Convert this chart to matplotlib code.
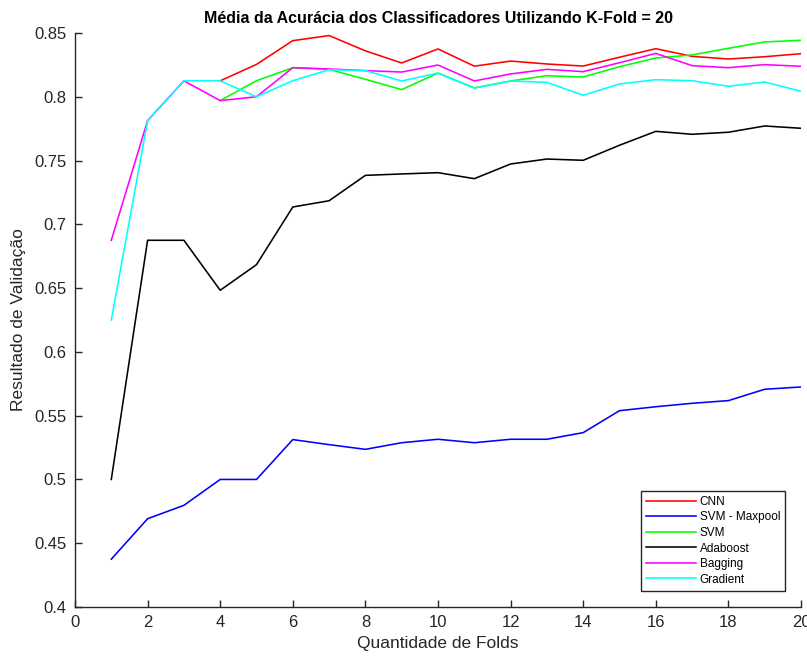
import numpy as np
import matplotlib
matplotlib.use("Agg")
import matplotlib.pyplot as plt

plt.rcParams['font.family'] = ['Liberation Sans', 'DejaVu Sans']

# quantidade de folds
folds = list(range(1, 21))

# acuracia media por classificador (nan = sem resultado)
nan = np.nan
cnn = [nan, nan, nan, 0.8125, 0.8254, 0.844, 0.848, 0.836, 0.8265, 0.8375,
       0.824, 0.828, 0.8257, 0.8241, 0.831, 0.8377, 0.8317, 0.8296, 0.8314, 0.8338]
svm_maxpool = [0.4375, 0.4692, 0.4797, 0.5, 0.5, 0.53125, 0.5273, 0.5236, 0.5288, 0.5315,
               0.5288, 0.5315, 0.5315, 0.5367, 0.5539, 0.557, 0.5597, 0.5618, 0.5707, 0.5725]
svm = [nan, nan, nan, 0.797, 0.8126, 0.8228, 0.8215, 0.8137, 0.8056, 0.8186,
       0.8069, 0.8124, 0.8165, 0.8155, 0.8236, 0.8304, 0.8328, 0.838, 0.843, 0.8443]
adaboost = [0.5, 0.6875, 0.6875, 0.6483, 0.6684, 0.7136, 0.7185, 0.7384, 0.7395, 0.7405,
            0.7358, 0.7473, 0.7512, 0.7502, 0.762, 0.7729, 0.7706, 0.7722, 0.7771, 0.7753]
bagging = [0.6875, 0.7813, 0.8125, 0.797, 0.8, 0.8228, 0.8218, 0.8205, 0.8194, 0.8249,
           0.8124, 0.8179, 0.8215, 0.8197, 0.8267, 0.834, 0.8244, 0.8228, 0.8252, 0.8239]
gradient = [0.625, 0.7813, 0.8125, 0.8125, 0.8, 0.8126, 0.8212, 0.8205, 0.8124, 0.8186,
            0.8069, 0.8124, 0.8113, 0.8012, 0.81, 0.8134, 0.8126, 0.8082, 0.8116, 0.8043]

series = [
    ('CNN', cnn, '#ff0000'),
    ('SVM - Maxpool', svm_maxpool, '#0000ff'),
    ('SVM', svm, '#00ff00'),
    ('Adaboost', adaboost, '#000000'),
    ('Bagging', bagging, '#ff00ff'),
    ('Gradient', gradient, '#00ffff'),
]

fig = plt.figure(figsize=(8.07, 6.58), dpi=100)
ax = fig.add_axes([75 / 807, 51 / 658, 726 / 807, 574 / 658])

for name, vals, col in series:
    ax.plot(folds, vals, color=col, lw=1.15, label=name)

axcol = '#262626'
ax.set_xlim(0, 20)
ax.set_ylim(0.4, 0.85)
ax.set_xticks(range(0, 21, 2))
ax.set_yticks(np.arange(0.4, 0.851, 0.05))
ax.set_yticklabels(['0.4', '0.45', '0.5', '0.55', '0.6', '0.65', '0.7', '0.75', '0.8', '0.85'])
ax.spines['top'].set_visible(False)
ax.spines['right'].set_visible(False)
for s in ('left', 'bottom'):
    ax.spines[s].set_color(axcol)
    ax.spines[s].set_linewidth(1.0)
ax.tick_params(direction='in', length=5, width=1.0, colors=axcol, labelsize=12, pad=6)

ax.set_title('Média da Acurácia dos Classificadores Utilizando K-Fold = 20',
             fontsize=11.5, fontweight='bold', pad=7)
ax.set_xlabel('Quantidade de Folds', fontsize=12.5, color=axcol, labelpad=4)
ax.set_ylabel('Resultado de Validação', fontsize=12.5, color=axcol, labelpad=6)

leg = ax.legend(loc='lower right', bbox_to_anchor=(0.9785, 0.028), fontsize=8.5,
                handlelength=4.2, fancybox=False, framealpha=1, borderpad=0.45,
                labelspacing=0.3, handletextpad=0.3, borderaxespad=0)
leg.get_frame().set_edgecolor(axcol)
leg.get_frame().set_linewidth(1.0)

fig.savefig('out.png', dpi=100)
